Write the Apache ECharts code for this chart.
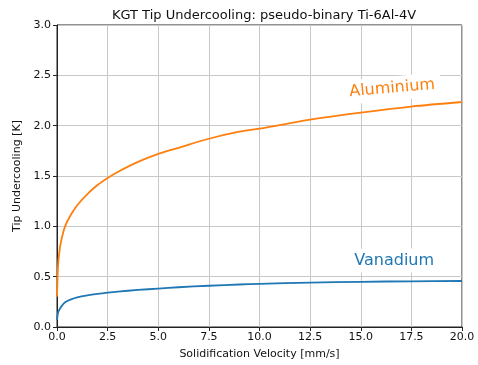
<!DOCTYPE html>
<html>
<head>
<meta charset="utf-8">
<script src="https://cdn.jsdelivr.net/npm/echarts@6/dist/echarts.min.js"></script>
<style>
  html, body { margin: 0; padding: 0; background: #fff; }
  #chart { width: 478px; height: 365px; }
</style>
</head>
<body>
<div id="chart"></div>
<script>
// velocities [mm/s] and tip undercooling [K]
var velocity  = [0, 0.05, 0.1, 0.2, 0.4, 0.7, 1.0, 1.5, 2.0, 2.5, 3.0, 4.0, 5.0, 6.0, 7.5, 9.0, 10, 12.5, 15, 17.5, 20];
var aluminium = [0.30, 0.60, 0.72, 0.85, 1.00, 1.12, 1.21, 1.32, 1.41, 1.48, 1.54, 1.64, 1.72, 1.78, 1.87, 1.94, 1.97, 2.06, 2.13, 2.19, 2.235];
var vanadium  = [0.07, 0.14, 0.165, 0.20, 0.245, 0.275, 0.295, 0.315, 0.33, 0.342, 0.352, 0.368, 0.382, 0.395, 0.41, 0.422, 0.429, 0.441, 0.449, 0.454, 0.457];
var xTicks = [0, 2.5, 5, 7.5, 10, 12.5, 15, 17.5, 20];
var yTicks = [0, 0.5, 1, 1.5, 2, 2.5, 3];

var FONT = 'DejaVu Sans';

function pairs(xs, ys) {
    var out = [];
    for (var i = 0; i < xs.length; i++) {
        out.push([xs[i], ys[i]]);
    }
    return out;
}

// text next to a curve, white box behind it like the original annotation
function curveLabel(name, coord, color, rotate) {
    return {
        silent: true,
        symbol: 'circle',
        symbolSize: 0,
        itemStyle: { color: 'rgba(0,0,0,0)' },
        data: [{ coord: coord }],
        label: {
            show: true,
            position: 'inside',
            formatter: name,
            color: color,
            fontFamily: FONT,
            fontSize: 16,
            rotate: rotate,
            backgroundColor: '#fff',
            padding: [4, 6]
        }
    };
}

var myChart = echarts.init(document.getElementById('chart'), null, { renderer: 'canvas' });

var option = {
    animation: false,
    backgroundColor: '#fff',
    title: {
        text: 'KGT Tip Undercooling: pseudo-binary Ti-6Al-4V',
        left: 259,
        textAlign: 'center',
        top: 4,
        textStyle: { fontFamily: FONT, fontSize: 13, fontWeight: 'normal', color: '#111' }
    },
    grid: {
        left: 57, right: 16, top: 25, bottom: 37,
        show: true, borderColor: '#222', borderWidth: 1,
        containLabel: false
    },
    xAxis: {
        type: 'value',
        min: xTicks[0], max: xTicks[xTicks.length - 1], interval: 2.5,
        name: 'Solidification Velocity [mm/s]',
        nameLocation: 'middle',
        nameGap: 22,
        nameTextStyle: { fontFamily: FONT, fontSize: 11, color: '#111' },
        axisLine: { show: true, lineStyle: { color: '#222', width: 1 } },
        axisTick: { show: true, inside: false, length: 4, lineStyle: { color: '#222' } },
        axisLabel: {
            fontFamily: FONT, fontSize: 11, color: '#111', margin: 5,
            formatter: function (v) { return v.toFixed(1); }
        },
        splitLine: { show: true, lineStyle: { color: '#c8c8c8', width: 1 } }
    },
    yAxis: {
        type: 'value',
        min: yTicks[0], max: yTicks[yTicks.length - 1], interval: 0.5,
        name: 'Tip Undercooling [K]',
        nameLocation: 'middle',
        nameGap: 34,
        nameTextStyle: { fontFamily: FONT, fontSize: 11, color: '#111' },
        axisLine: { show: true, lineStyle: { color: '#222', width: 1 } },
        axisTick: { show: true, inside: false, length: 4, lineStyle: { color: '#222' } },
        axisLabel: {
            fontFamily: FONT, fontSize: 11, color: '#111', margin: 6,
            formatter: function (v) { return v.toFixed(1); }
        },
        splitLine: { show: true, lineStyle: { color: '#c8c8c8', width: 1 } }
    },
    series: [
        {
            name: 'Aluminium',
            type: 'line',
            data: pairs(velocity, aluminium),
            showSymbol: false,
            smooth: 0.3,
            lineStyle: { color: '#ff7f0e', width: 1.8 },
            markPoint: curveLabel('Aluminium', [16.55, 2.37], '#ff7f0e', 5)
        },
        {
            name: 'Vanadium',
            type: 'line',
            data: pairs(velocity, vanadium),
            showSymbol: false,
            smooth: 0.3,
            lineStyle: { color: '#1f77b4', width: 1.8 },
            markPoint: curveLabel('Vanadium', [16.65, 0.66], '#1f77b4', 0)
        }
    ]
};

myChart.setOption(option);
</script>
</body>
</html>
